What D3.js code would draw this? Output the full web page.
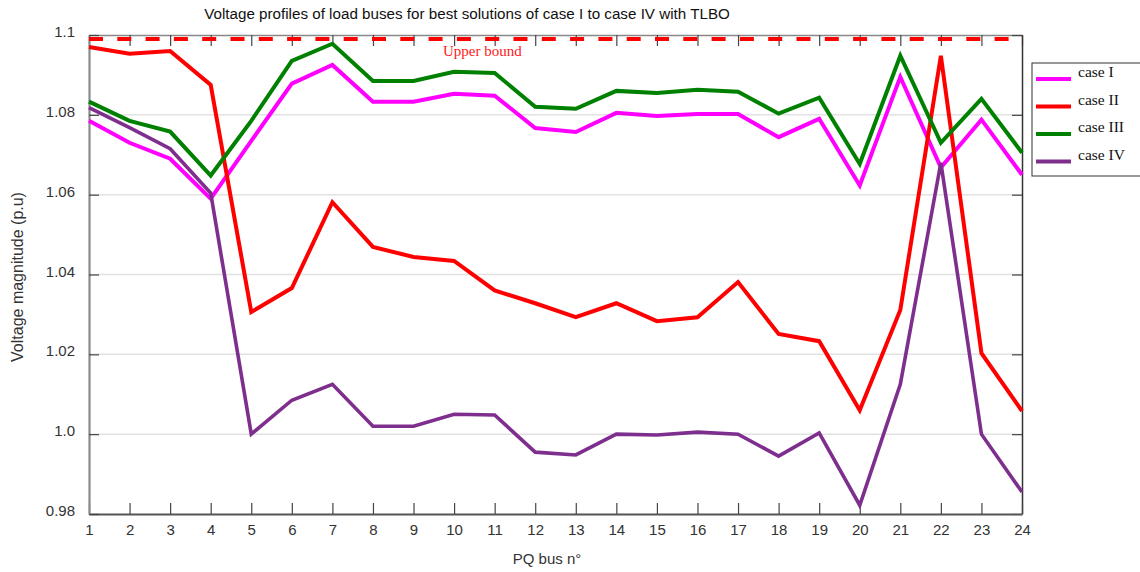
<!DOCTYPE html>
<html>
<head>
<meta charset="utf-8">
<script src="https://cdn.jsdelivr.net/npm/d3@7"></script>
<style>
  body { margin: 0; background: #fff; }
  svg { display: block; }
</style>
</head>
<body>
<svg id="chart" width="1140" height="572"></svg>
<script>
'use strict'

// PQ bus numbers
const buses = d3.range(1, 25)

// voltage magnitudes (p.u)
const caseI = [1.0785, 1.0730, 1.0690, 1.0590, 1.0735, 1.0878, 1.0925, 1.0833, 1.0833, 1.0853, 1.0848, 1.0767,
    1.0757, 1.0805, 1.0797, 1.0802, 1.0802, 1.0744, 1.0790, 1.0623, 1.0895, 1.0668, 1.0788, 1.0650]
const caseII = [1.0970, 1.0953, 1.0960, 1.0875, 1.0306, 1.0366, 1.0581, 1.0469, 1.0444, 1.0434, 1.0360, 1.0328,
    1.0293, 1.0328, 1.0283, 1.0293, 1.0381, 1.0251, 1.0233, 1.0060, 1.0311, 1.0948, 1.0203, 1.0058]
const caseIII = [1.0833, 1.0785, 1.0758, 1.0648, 1.0785, 1.0935, 1.0978, 1.0885, 1.0885, 1.0908, 1.0905, 1.0820,
    1.0815, 1.0860, 1.0855, 1.0863, 1.0858, 1.0803, 1.0843, 1.0677, 1.0948, 1.0730, 1.0840, 1.0705]
const caseIV = [1.0818, 1.0768, 1.0715, 1.0604, 1.0000, 1.0085, 1.0125, 1.0020, 1.0020, 1.0050, 1.0048, 0.9955,
    0.9948, 1.0000, 0.9998, 1.0005, 1.0000, 0.9945, 1.0003, 0.9822, 1.0125, 1.0680, 1.0000, 0.9855]

const upperBound = 1.099

const seriesNames = ['case I', 'case II', 'case III', 'case IV']
const seriesColors = ['#ff00ff', '#ff0000', '#008000', '#7e2f8e']
const seriesValues = [caseI, caseII, caseIII, caseIV]

const yTicks = [0.98, 1.0, 1.02, 1.04, 1.06, 1.08, 1.1]
const yTickLabels = ['0.98', '1.0', '1.02', '1.04', '1.06', '1.08', '1.1']

// plot area
const plot = { left: 89, right: 1022, top: 35, bottom: 514 }

const svg = d3.select('#chart')

const x = d3.scaleLinear().domain([1, 24]).range([plot.left, plot.right])
const y = d3.scaleLinear().domain([0.98, 1.1]).range([plot.bottom, plot.top])

// horizontal grid
svg.append('g')
    .selectAll('line')
    .data(yTicks.filter((d) => d > 0.98 && d < 1.1))
    .enter()
    .append('line')
    .attr('x1', plot.left)
    .attr('x2', plot.right)
    .attr('y1', (d) => y(d))
    .attr('y2', (d) => y(d))
    .attr('stroke', '#e2e2e2')
    .attr('stroke-width', 1.5)

// top and right frame with inward ticks
const topAxis = svg.append('g')
    .attr('transform', `translate(0,${plot.top})`)
    .call(d3.axisTop(x).tickValues(buses).tickSizeInner(-11).tickSizeOuter(0).tickFormat(''))
const rightAxis = svg.append('g')
    .attr('transform', `translate(${plot.right},0)`)
    .call(d3.axisRight(y).tickValues(yTicks).tickSizeInner(-10).tickSizeOuter(0).tickFormat(''))

// bottom axis
const bottomAxis = svg.append('g')
    .attr('transform', `translate(0,${plot.bottom})`)
    .call(d3.axisBottom(x).tickValues(buses).tickSizeInner(-11).tickSizeOuter(0).tickPadding(10).tickFormat(d3.format('d')))

// left axis
const leftAxis = svg.append('g')
    .attr('transform', `translate(${plot.left},0)`)
    .call(d3.axisLeft(y).tickValues(yTicks).tickSizeInner(-10).tickSizeOuter(0).tickPadding(14)
        .tickFormat((d, i) => yTickLabels[i]))

for (const g of [topAxis, rightAxis, bottomAxis, leftAxis]) {
    g.selectAll('.tick line').attr('stroke', '#444').attr('stroke-width', 1.2)
    g.selectAll('text')
        .attr('font-family', 'Liberation Sans, Arial, sans-serif')
        .attr('font-size', 15)
        .attr('fill', '#333')
}
topAxis.select('.domain').attr('stroke', '#888').attr('stroke-width', 1.5)
rightAxis.select('.domain').attr('stroke', '#333').attr('stroke-width', 1.5)
bottomAxis.select('.domain').attr('stroke', '#555').attr('stroke-width', 1.8)
leftAxis.select('.domain').attr('stroke', '#8a8a8a').attr('stroke-width', 2.2)
leftAxis.selectAll('text').attr('dy', '0.1em')

// upper bound
svg.append('line')
    .attr('x1', plot.left)
    .attr('x2', plot.right)
    .attr('y1', y(upperBound))
    .attr('y2', y(upperBound))
    .attr('stroke', '#ff0000')
    .attr('stroke-width', 4)
    .attr('stroke-dasharray', '14,14.3')

svg.append('text')
    .attr('x', 443)
    .attr('y', 56)
    .attr('font-family', 'Liberation Serif, Times New Roman, serif')
    .attr('font-size', 15)
    .attr('fill', '#ff1a1a')
    .text('Upper bound')

// series lines
const line = d3.line()
    .x((d, i) => x(buses[i]))
    .y((d) => y(d))

svg.append('g')
    .selectAll('path')
    .data(seriesValues)
    .enter()
    .append('path')
    .attr('d', (d) => line(d))
    .attr('fill', 'none')
    .attr('stroke', (d, i) => seriesColors[i])
    .attr('stroke-width', (d, i) => (i === 3 ? 3.6 : 4))
    .attr('stroke-linejoin', 'miter')

// title and axis labels
svg.append('text')
    .attr('x', 467)
    .attr('y', 19)
    .attr('text-anchor', 'middle')
    .attr('font-family', 'Liberation Sans, Arial, sans-serif')
    .attr('font-size', 15.2)
    .attr('fill', '#111')
    .text('Voltage profiles of load buses for best solutions of case I to case IV with TLBO')

svg.append('text')
    .attr('x', 547)
    .attr('y', 564)
    .attr('text-anchor', 'middle')
    .attr('font-family', 'Liberation Sans, Arial, sans-serif')
    .attr('font-size', 15)
    .attr('fill', '#333')
    .text('PQ bus n°')

svg.append('text')
    .attr('transform', 'translate(23,277) rotate(-90)')
    .attr('text-anchor', 'middle')
    .attr('font-family', 'Liberation Sans, Arial, sans-serif')
    .attr('font-size', 16)
    .attr('fill', '#333')
    .text('Voltage magnitude (p.u)')

// legend
const legend = svg.append('g').attr('transform', 'translate(1032,63)')
legend.append('rect')
    .attr('width', 120)
    .attr('height', 113)
    .attr('fill', '#fff')
    .attr('stroke', '#333')
    .attr('stroke-width', 1)

const entry = legend.selectAll('g.entry')
    .data(seriesNames)
    .enter()
    .append('g')
    .attr('class', 'entry')
    .attr('transform', (d, i) => `translate(0,${16 + i * 27.5})`)
entry.append('line')
    .attr('x1', 4)
    .attr('x2', 39)
    .attr('stroke', (d, i) => seriesColors[i])
    .attr('stroke-width', 4)
entry.append('text')
    .attr('x', 46)
    .attr('y', -2)
    .attr('font-family', 'Liberation Serif, Times New Roman, serif')
    .attr('font-size', 15.5)
    .attr('fill', '#111')
    .text((d) => d)
</script>
</body>
</html>
